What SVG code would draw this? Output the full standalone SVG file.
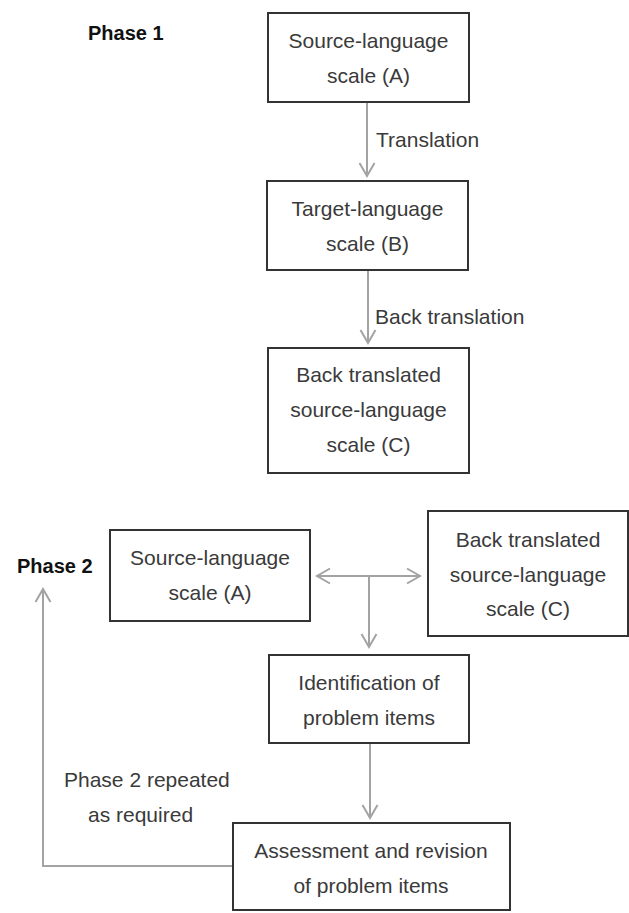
<svg xmlns="http://www.w3.org/2000/svg" width="629" height="913" viewBox="0 0 629 913">
<style>
.box{fill:#fff;stroke:#333;stroke-width:2}
.t{font-family:"Liberation Sans",Arial,sans-serif;font-size:21px;fill:#3a3a3a;text-anchor:middle}
.l{font-family:"Liberation Sans",Arial,sans-serif;font-size:21px;fill:#3a3a3a}
.ph{font-family:"Liberation Sans",Arial,sans-serif;font-size:20px;font-weight:bold;fill:#111}
.c{fill:none;stroke:#a3a3a3;stroke-width:2}
</style>
<defs>
<marker id="ah" markerUnits="userSpaceOnUse" markerWidth="20" markerHeight="20" refX="0" refY="0" orient="auto-start-reverse" overflow="visible">
<path d="M-13,-7.5 L0,0 L-13,7.5" fill="none" stroke="#a3a3a3" stroke-width="2"/>
</marker>
</defs>
<rect width="629" height="913" fill="#fff"/>
<g id="connectors">
<line class="c" x1="367" y1="102" x2="367" y2="176" marker-end="url(#ah)"/>
<line class="c" x1="368" y1="270" x2="368" y2="343" marker-end="url(#ah)"/>
<line class="c" x1="317" y1="576" x2="420" y2="576" marker-start="url(#ah)" marker-end="url(#ah)"/>
<line class="c" x1="369" y1="576" x2="369" y2="647" marker-end="url(#ah)"/>
<line class="c" x1="370" y1="743" x2="370" y2="818" marker-end="url(#ah)"/>
<polyline class="c" points="233,866 43,866 43,589" marker-end="url(#ah)"/>
<text class="l" x="376" y="147">Translation</text>
<text class="l" x="375" y="324">Back translation</text>
<text class="l" x="64" y="787">Phase 2 repeated</text>
<text class="l" x="88" y="822">as required</text>
</g>
<g id="phase1"><text class="ph" x="88" y="40">Phase 1</text></g>
<g id="phase2"><text class="ph" x="17" y="573">Phase 2</text></g>
<g id="nodeA">
<rect class="box" x="268" y="13" width="201" height="89"/>
<text class="t" x="368.5" y="48">Source-language</text>
<text class="t" x="368.5" y="83">scale (A)</text>
</g>
<g id="nodeB">
<rect class="box" x="267" y="181" width="201" height="89"/>
<text class="t" x="367.5" y="216">Target-language</text>
<text class="t" x="367.5" y="251">scale (B)</text>
</g>
<g id="nodeC">
<rect class="box" x="268" y="348" width="201" height="125"/>
<text class="t" x="368.5" y="382">Back translated</text>
<text class="t" x="368.5" y="417">source-language</text>
<text class="t" x="368.5" y="452">scale (C)</text>
</g>
<g id="nodeA2">
<rect class="box" x="110" y="530" width="200" height="91"/>
<text class="t" x="210" y="565">Source-language</text>
<text class="t" x="210" y="600">scale (A)</text>
</g>
<g id="nodeC2">
<rect class="box" x="428" y="511" width="200" height="125"/>
<text class="t" x="528" y="547">Back translated</text>
<text class="t" x="528" y="582">source-language</text>
<text class="t" x="528" y="616">scale (C)</text>
</g>
<g id="nodeIdent">
<rect class="box" x="269" y="655" width="200" height="88"/>
<text class="t" x="369" y="690">Identification of</text>
<text class="t" x="369" y="725">problem items</text>
</g>
<g id="nodeAssess">
<rect class="box" x="233" y="823" width="277" height="87"/>
<text class="t" x="371" y="858">Assessment and revision</text>
<text class="t" x="371" y="893">of problem items</text>
</g>
</svg>
